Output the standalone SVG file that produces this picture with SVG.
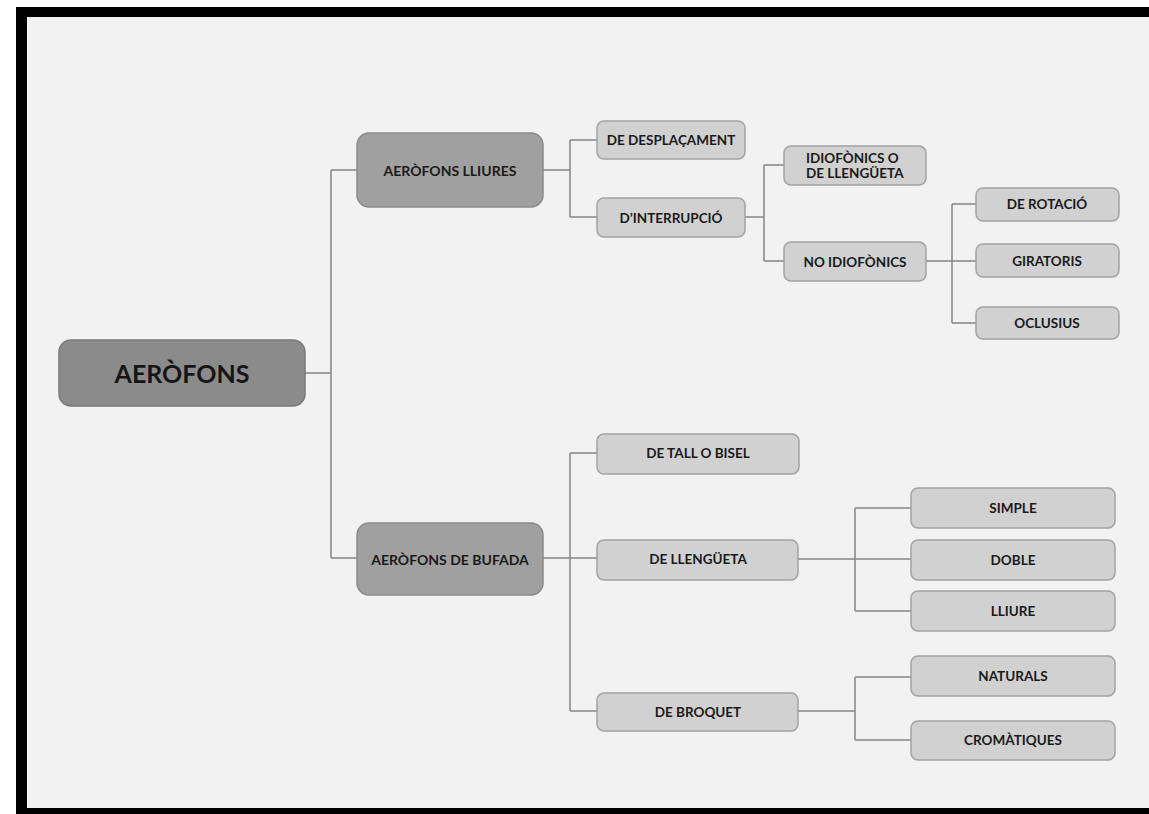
<svg xmlns="http://www.w3.org/2000/svg" width="1149" height="814" viewBox="0 0 1149 814">
<style>
.n1{fill:#8b8b8b;stroke:#7a7a7a;stroke-width:1.5}
.n2{fill:#a0a0a0;stroke:#8a8a8a;stroke-width:1.5}
.n3{fill:#d1d1d1;stroke:#a3a3a3;stroke-width:1.5}
text{font-family:Lato,"Open Sans","Liberation Sans",sans-serif;font-weight:bold;fill:#1a1a1a;text-anchor:middle;dominant-baseline:central}
.t1{font-size:25px;fill:#151515}
.t2{font-size:14px}
.t3{font-size:13.5px}
.c path{fill:none;stroke:#858585;stroke-width:1.5}
</style>
<rect x="0" y="0" width="1149" height="814" fill="#ffffff"/>
<rect x="16" y="7" width="1133" height="807" fill="#000000"/>
<rect x="27" y="17" width="1122" height="791" fill="#f2f2f2"/>
<g class="c" id="connectors">
<path d="M305,373 H331 M331,170 V558 M331,170 H357 M331,558 H357"/>
<path d="M543,170 H570 M570,140 V217 M570,140 H597 M570,217 H597"/>
<path d="M744,217 H764 M764,165 V261 M764,165 H784 M764,261 H784"/>
<path d="M926,261 H952 M952,204 V323 M952,204 H976 M952,261 H976 M952,323 H976"/>
<path d="M543,558 H597 M570,453 V711 M570,453 H597 M570,711 H597"/>
<path d="M798,559 H911 M855,508 V611 M855,508 H911 M855,611 H911"/>
<path d="M798,711 H855 M855,677 V740 M855,677 H911 M855,740 H911"/>
</g>
<g id="aerofons"><rect class="n1" x="59" y="340" width="246" height="66" rx="12"/><text class="t1" x="182" y="373">AERÒFONS</text></g>
<g id="lliures"><rect class="n2" x="357" y="133" width="186" height="74" rx="12"/><text class="t2" x="450" y="170">AERÒFONS LLIURES</text></g>
<g id="bufada"><rect class="n2" x="357" y="523" width="186" height="72" rx="12"/><text class="t2" x="450" y="559">AERÒFONS DE BUFADA</text></g>
<g id="desplacament"><rect class="n3" x="597" y="121" width="148" height="38" rx="7"/><text class="t3" x="671" y="140">DE DESPLAÇAMENT</text></g>
<g id="interrupcio"><rect class="n3" x="597" y="198" width="148" height="39" rx="7"/><text class="t3" x="671" y="218">D’INTERRUPCIÓ</text></g>
<g id="idiofonics"><rect class="n3" x="784" y="146" width="142" height="39" rx="7"/><text class="t3" x="806" y="158" style="text-anchor:start">IDIOFÒNICS O</text><text class="t3" x="806" y="173" style="text-anchor:start">DE LLENGÜETA</text></g>
<g id="noidiofonics"><rect class="n3" x="784" y="242" width="142" height="39" rx="7"/><text class="t3" x="855" y="262">NO IDIOFÒNICS</text></g>
<g id="rotacio"><rect class="n3" x="976" y="188" width="143" height="33" rx="7"/><text class="t3" x="1047" y="204">DE ROTACIÓ</text></g>
<g id="giratoris"><rect class="n3" x="976" y="244" width="143" height="33" rx="7"/><text class="t3" x="1047" y="261">GIRATORIS</text></g>
<g id="oclusius"><rect class="n3" x="976" y="307" width="143" height="32" rx="7"/><text class="t3" x="1047" y="323">OCLUSIUS</text></g>
<g id="bisel"><rect class="n3" x="597" y="434" width="202" height="40" rx="7"/><text class="t3" x="698" y="453">DE TALL O BISEL</text></g>
<g id="llengueta"><rect class="n3" x="597" y="540" width="201" height="40" rx="7"/><text class="t3" x="698" y="559">DE LLENGÜETA</text></g>
<g id="broquet"><rect class="n3" x="597" y="693" width="201" height="38" rx="7"/><text class="t3" x="698" y="712">DE BROQUET</text></g>
<g id="simple"><rect class="n3" x="911" y="488" width="204" height="40" rx="7"/><text class="t3" x="1013" y="508">SIMPLE</text></g>
<g id="doble"><rect class="n3" x="911" y="540" width="204" height="40" rx="7"/><text class="t3" x="1013" y="560">DOBLE</text></g>
<g id="lliure"><rect class="n3" x="911" y="591" width="204" height="40" rx="7"/><text class="t3" x="1013" y="611">LLIURE</text></g>
<g id="naturals"><rect class="n3" x="911" y="656" width="204" height="40" rx="7"/><text class="t3" x="1013" y="676">NATURALS</text></g>
<g id="cromatiques"><rect class="n3" x="911" y="721" width="204" height="39" rx="7"/><text class="t3" x="1013" y="740">CROMÀTIQUES</text></g>
</svg>
